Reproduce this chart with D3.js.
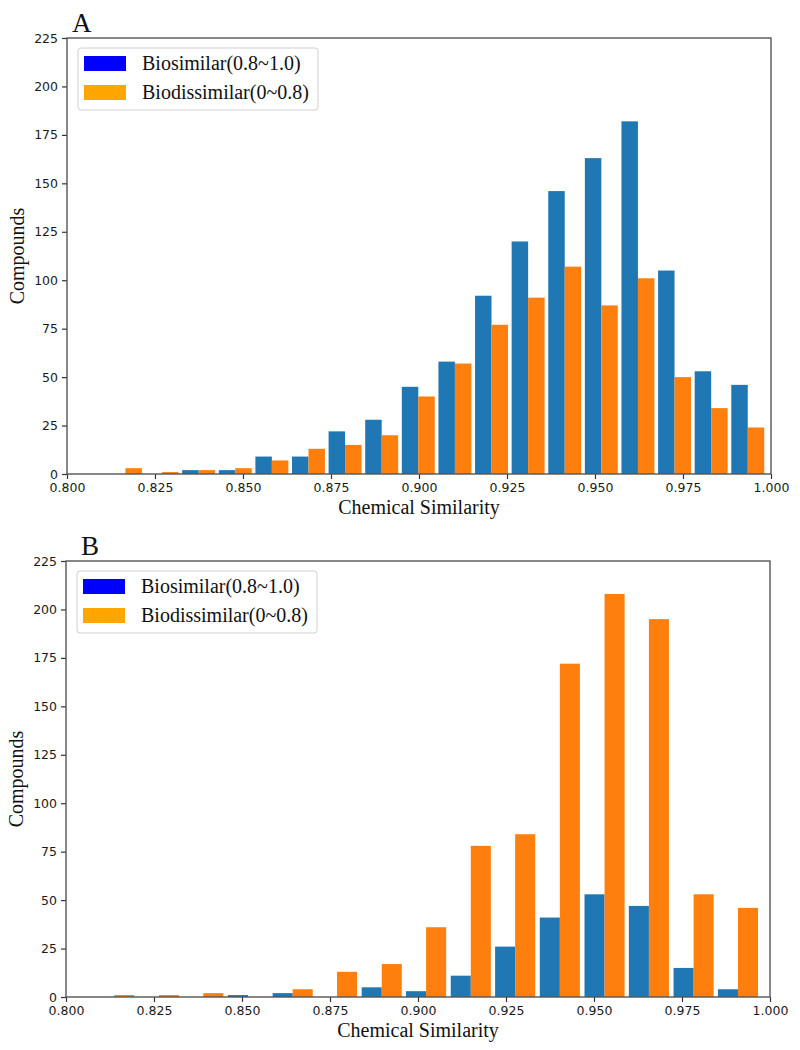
<!DOCTYPE html>
<html>
<head>
<meta charset="utf-8">
<script src="https://cdn.jsdelivr.net/npm/d3@7"></script>
<style>
  body { margin: 0; background: #fff; }
  svg { display: block; }
</style>
</head>
<body>
<svg id="chart" width="800" height="1050"></svg>
<script>
// ---- Data ----
const seriesNames = ["Biosimilar(0.8~1.0)", "Biodissimilar(0~0.8)"];
const xTickValues = [0.800, 0.825, 0.850, 0.875, 0.900, 0.925, 0.950, 0.975, 1.000];
const yTickValues = [0, 25, 50, 75, 100, 125, 150, 175, 200, 225];

// Panel A histogram bins (centers) and counts
const binWidthA = 0.0104;
const binCentersA = [0.8166, 0.8270, 0.8374, 0.8478, 0.8582, 0.8686, 0.8790, 0.8894, 0.8998,
                     0.9102, 0.9206, 0.9310, 0.9414, 0.9518, 0.9622, 0.9726, 0.9830, 0.9934];
const biosimilarA    = [0, 0, 2, 2, 9, 9, 22, 28, 45, 58, 92, 120, 146, 163, 182, 105, 53, 46];
const biodissimilarA = [3, 1, 2, 3, 7, 13, 15, 20, 40, 57, 77, 91, 107, 87, 101, 50, 34, 24];

// Panel B histogram bins (centers) and counts
const binWidthB = 0.01266;
const binCentersB = [0.8137, 0.8264, 0.8390, 0.8517, 0.8644, 0.8770, 0.8897, 0.9023,
                     0.9150, 0.9276, 0.9403, 0.9530, 0.9656, 0.9783, 0.9909];
const biosimilarB    = [0, 0, 0, 1, 2, 0, 5, 3, 11, 26, 41, 53, 47, 15, 4];
const biodissimilarB = [1, 1, 2, 0, 4, 13, 17, 36, 78, 84, 172, 208, 195, 53, 46];

// ---- Styles ----
const barColors = ["#1f77b4", "#ff7f0e"];
const legendColors = ["#0000ff", "#ffa500"];
const serif = "'Liberation Serif', 'Times New Roman', serif";
const sans = "'DejaVu Sans', sans-serif";

const svg = d3.select("#chart");

function drawPanel(cfg) {
  const { left, right, top, bottom, label, labelX, centers, binWidth, s1, s2 } = cfg;
  const g = svg.append("g");
  const x = d3.scaleLinear().domain([0.8, 1.0]).range([left, right]);
  const y = d3.scaleLinear().domain([0, 225]).range([bottom, top]);

  // bars
  const rows = centers.map((c, i) => ({ c, a: s1[i], b: s2[i] }));
  const half = binWidth * 0.45;
  g.selectAll(".b1").data(rows).enter().append("rect")
    .attr("x", d => x(d.c - half))
    .attr("width", d => x(d.c) - x(d.c - half))
    .attr("y", d => y(d.a))
    .attr("height", d => y(0) - y(d.a))
    .attr("fill", barColors[0]);
  g.selectAll(".b2").data(rows).enter().append("rect")
    .attr("x", d => x(d.c))
    .attr("width", d => x(d.c + half) - x(d.c))
    .attr("y", d => y(d.b))
    .attr("height", d => y(0) - y(d.b))
    .attr("fill", barColors[1]);

  // axes
  const xAxis = g.append("g").attr("transform", `translate(0,${bottom})`)
    .call(d3.axisBottom(x).tickValues(xTickValues).tickFormat(d3.format(".3f")).tickSize(5).tickPadding(4));
  const yAxis = g.append("g").attr("transform", `translate(${left},0)`)
    .call(d3.axisLeft(y).tickValues(yTickValues).tickSize(5).tickPadding(4));
  [xAxis, yAxis].forEach(a => {
    a.select(".domain").remove();
    a.selectAll("line").attr("stroke", "#333").attr("stroke-width", 1.2);
    a.selectAll("text").attr("font-family", sans).attr("font-size", 12.5).attr("fill", "#1a1a1a");
  });

  // frame
  g.append("rect").attr("x", left).attr("y", top)
    .attr("width", right - left).attr("height", bottom - top)
    .attr("fill", "none").attr("stroke", "#555").attr("stroke-width", 1.4);

  // panel label
  g.append("text").attr("x", labelX).attr("y", top - 6)
    .attr("font-family", serif).attr("font-size", 27).attr("fill", "#111").text(label);

  // axis titles
  g.append("text").attr("x", (left + right) / 2).attr("y", bottom + 40)
    .attr("text-anchor", "middle").attr("font-family", serif).attr("font-size", 20)
    .attr("fill", "#111").text("Chemical Similarity");
  g.append("text")
    .attr("transform", `translate(${left - 43},${(top + bottom) / 2}) rotate(-90)`)
    .attr("text-anchor", "middle").attr("font-family", serif).attr("font-size", 20)
    .attr("fill", "#111").text("Compounds");

  // legend
  const lg = g.append("g").attr("transform", `translate(${left + 11},${top + 10})`);
  lg.append("rect").attr("width", 240).attr("height", 62).attr("rx", 3)
    .attr("fill", "#fff").attr("fill-opacity", 0.85)
    .attr("stroke", "#d0d0d0").attr("stroke-width", 1);
  seriesNames.forEach((name, i) => {
    lg.append("rect").attr("x", 6).attr("y", 8 + i * 29).attr("width", 42).attr("height", 15)
      .attr("fill", legendColors[i]);
    lg.append("text").attr("x", 64).attr("y", 22 + i * 29)
      .attr("font-family", serif).attr("font-size", 20).attr("fill", "#111").text(name);
  });
}

drawPanel({ left: 67, right: 771, top: 38, bottom: 474, label: "A", labelX: 72,
  centers: binCentersA, binWidth: binWidthA, s1: biosimilarA, s2: biodissimilarA });
drawPanel({ left: 66, right: 770, top: 561, bottom: 997, label: "B", labelX: 81,
  centers: binCentersB, binWidth: binWidthB, s1: biosimilarB, s2: biodissimilarB });
</script>
</body>
</html>
